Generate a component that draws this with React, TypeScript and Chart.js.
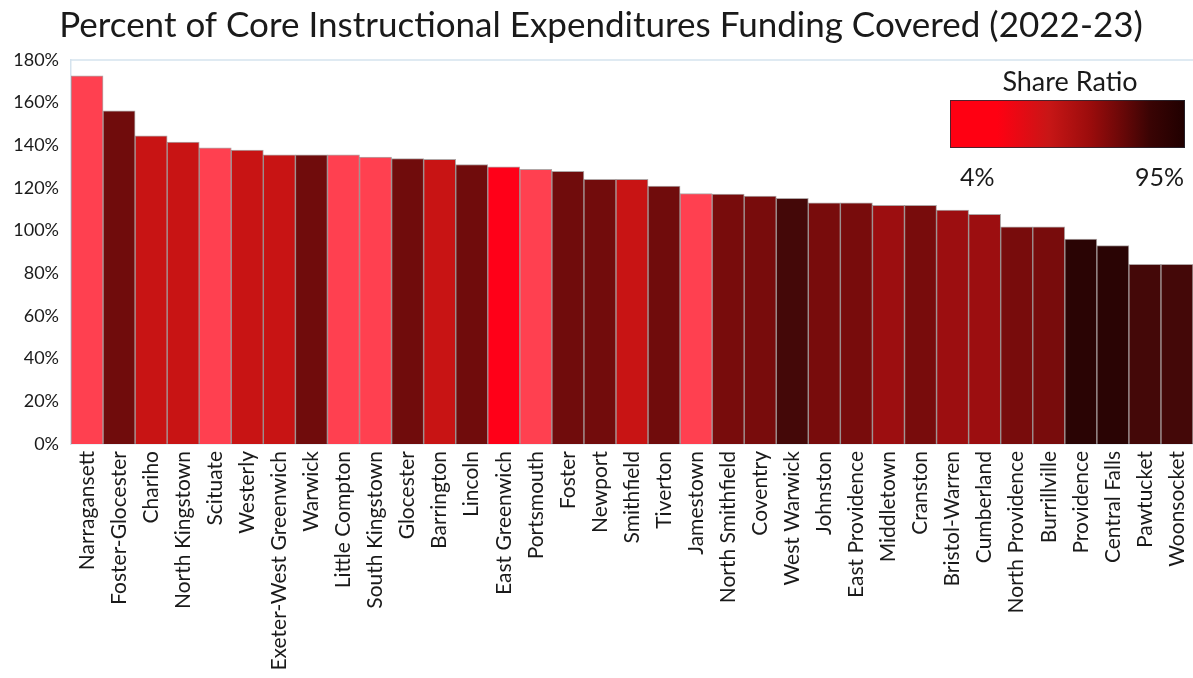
import React, { useEffect, useRef } from "react";
import { Chart, registerables } from "chart.js";

Chart.register(...registerables);

const TITLE = "Percent of Core Instructional Expenditures Funding Covered (2022-23)";

const districts = [
  "Narragansett", "Foster-Glocester", "Chariho", "North Kingstown", "Scituate",
  "Westerly", "Exeter-West Greenwich", "Warwick", "Little Compton", "South Kingstown",
  "Glocester", "Barrington", "Lincoln", "East Greenwich", "Portsmouth",
  "Foster", "Newport", "Smithfield", "Tiverton", "Jamestown",
  "North Smithfield", "Coventry", "West Warwick", "Johnston", "East Providence",
  "Middletown", "Cranston", "Bristol-Warren", "Cumberland", "North Providence",
  "Burrillville", "Providence", "Central Falls", "Pawtucket", "Woonsocket",
];

const percentCovered = [
  172.6, 156.2, 144.5, 141.5, 138.8,
  137.8, 135.5, 135.5, 135.5, 134.5,
  133.8, 133.4, 131.0, 129.9, 128.8,
  127.8, 124.1, 124.1, 120.9, 117.4,
  117.1, 116.2, 115.1, 113.0, 113.0,
  111.9, 111.9, 109.6, 107.7, 101.8,
  101.8, 96.0, 93.0, 84.2, 84.2,
];

const barColors = [
  "#FF4050", "#700C0C", "#C81414", "#C81414", "#FF4050",
  "#C81414", "#C81414", "#700C0C", "#FF4050", "#FF4050",
  "#700C0C", "#C81414", "#700C0C", "#FF0018", "#FF4050",
  "#700C0C", "#720C0C", "#C81414", "#700C0C", "#FF4050",
  "#780C0C", "#780C0C", "#440808", "#780C0C", "#780C0C",
  "#9C0E10", "#780C0C", "#9C0E10", "#9C0E10", "#780C0C",
  "#780C0C", "#2A0404", "#2A0404", "#440808", "#440808",
];

const yTicks = [0, 20, 40, 60, 80, 100, 120, 140, 160, 180];

const legendTitle = "Share Ratio";
const legendMin = "4%";
const legendMax = "95%";

const FONT = "Lato, 'Open Sans', sans-serif";

const decorPlugin = {
  id: "decor",
  afterDraw(chart: any) {
    const ctx = chart.ctx as CanvasRenderingContext2D;
    const ca = chart.chartArea;
    ctx.save();
    // plot frame top
    ctx.strokeStyle = "#D5E3EE";
    ctx.lineWidth = 1.5;
    ctx.beginPath();
    ctx.moveTo(ca.left, ca.top);
    ctx.lineTo(ca.right, ca.top);
    ctx.stroke();

    // title
    ctx.fillStyle = "#1a1a1a";
    ctx.font = `35px ${FONT}`;
    ctx.textAlign = "center";
    ctx.textBaseline = "alphabetic";
    ctx.fillText(TITLE, 601, 37);

    // legend
    const lx = 950, ly = 100, lw = 235, lh = 48;
    const g = ctx.createLinearGradient(lx, 0, lx + lw, 0);
    g.addColorStop(0, "#FF0012");
    g.addColorStop(0.2, "#FF0012");
    g.addColorStop(0.42, "#C81616");
    g.addColorStop(0.6, "#9A0C0C");
    g.addColorStop(0.72, "#6E0808");
    g.addColorStop(0.85, "#3A0404");
    g.addColorStop(1, "#200000");
    ctx.fillStyle = g;
    ctx.fillRect(lx, ly, lw, lh);
    ctx.strokeStyle = "rgba(40,40,50,0.8)";
    ctx.lineWidth = 1;
    ctx.strokeRect(lx + 0.5, ly + 0.5, lw - 1, lh - 1);

    ctx.fillStyle = "#1a1a1a";
    ctx.font = `27px ${FONT}`;
    ctx.textAlign = "center";
    ctx.textBaseline = "middle";
    ctx.fillText(legendTitle, 1070, 82);
    ctx.font = `25px ${FONT}`;
    ctx.textAlign = "left";
    ctx.fillText(legendMin, 960, 178);
    ctx.textAlign = "right";
    ctx.fillText(legendMax, 1184, 178);
    ctx.restore();
  },
};

export default function App() {
  const ref = useRef<HTMLCanvasElement | null>(null);
  useEffect(() => {
    if (!ref.current) return;
    const chart = new Chart(ref.current, {
      type: "bar",
      data: {
        labels: districts,
        datasets: [
          {
            data: percentCovered,
            backgroundColor: barColors,
            borderColor: "rgba(30,0,0,0.35)",
            borderWidth: 1,
            categoryPercentage: 1,
            barPercentage: 1,
          },
        ],
      },
      options: {
        responsive: false,
        animation: false,
        devicePixelRatio: 1,
        layout: { padding: { top: 60, right: 0, left: 0, bottom: 0 } },
        plugins: {
          legend: { display: false },
          title: { display: false },
          tooltip: { enabled: false },
        },
        scales: {
          x: {
            grid: { display: false, drawTicks: false },
            border: { display: true, color: "#D5E3EE", width: 1.5 },
            ticks: {
              autoSkip: false,
              minRotation: 90,
              maxRotation: 90,
              padding: 7,
              color: "#1a1a1a",
              font: { family: FONT, size: 21 },
            },
            afterFit(scale: any) {
              scale.height = 678 - 444;
              scale.paddingLeft = 0;
              scale.paddingRight = 0;
            },
          },
          y: {
            min: 0,
            max: 180,
            grid: { display: false, drawTicks: false },
            border: { display: true, color: "#D5E3EE", width: 1.5 },
            afterBuildTicks(scale: any) {
              scale.ticks = yTicks.map((v) => ({ value: v }));
            },
            ticks: {
              padding: 12,
              color: "#1a1a1a",
              font: { family: FONT, size: 18 },
              callback: (v: any) => `${v}%`,
            },
            afterFit(scale: any) {
              scale.width = 71;
              scale.paddingTop = 0;
              scale.paddingBottom = 0;
            },
          },
        },
      },
      plugins: [decorPlugin],
    });
    return () => chart.destroy();
  }, []);
  return (
    <div style={{ position: "absolute", left: 0, top: 0, width: 1193, height: 678, background: "#fff" }}>
      <canvas ref={ref} width={1193} height={678} style={{ display: "block" }} />
    </div>
  );
}
